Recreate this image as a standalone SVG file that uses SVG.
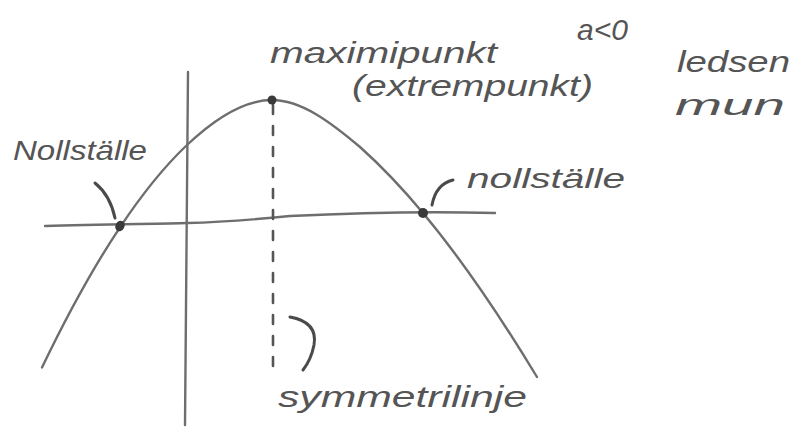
<svg xmlns="http://www.w3.org/2000/svg" width="807" height="427" viewBox="0 0 807 427">
<style>
.ln{fill:none;stroke:#6e6e6e;stroke-width:2.4;stroke-linecap:round;stroke-linejoin:round}
.dash{fill:none;stroke:#555;stroke-width:2.6;stroke-dasharray:9 12;stroke-linecap:round}
.ldr{fill:none;stroke:#4a4a4a;stroke-width:3;stroke-linecap:round}
.dot{fill:#3a3a3a}
.t{font-family:"Liberation Sans",Arial,sans-serif;fill:#555;font-style:italic}
</style>
<rect width="807" height="427" fill="#fff"/>
<g id="axes">
<path class="ln" d="M45,226 C100,224 160,224 187,223 C230,222 260,219 290,216 C350,213 420,211 495,213"/>
<path class="ln" d="M188,72 L185,425"/>
</g>
<g id="parabola">
<path class="ln" d="M42,367.5 C68,313.4 94,266.3 120,227.3 C142.3,193.8 164.7,166.1 187,145 C215.3,118.2 243.7,100 272,100 C301.3,100 330.7,122.2 360,147 C381,165.8 402,187.8 423,213 C461,258.5 499,314.3 537,377"/>
</g>
<g id="symmetry-axis">
<path class="dash" d="M273,105 L273,368"/>
</g>
<g id="maximum">
<ellipse class="dot" cx="272" cy="100" rx="4.5" ry="4.5"/>
<text class="t" x="270" y="63" font-size="30" textLength="227" lengthAdjust="spacingAndGlyphs">maximipunkt</text>
<text class="t" x="352" y="96" font-size="30" textLength="241" lengthAdjust="spacingAndGlyphs">(extrempunkt)</text>
</g>
<g id="zero-left">
<ellipse class="dot" cx="120" cy="226" rx="4.5" ry="5.5" transform="rotate(30 120 226)"/>
<text class="t" x="13" y="160" font-size="28" textLength="134" lengthAdjust="spacingAndGlyphs">Nollställe</text>
</g>
<g id="zero-right">
<ellipse class="dot" cx="423" cy="213" rx="5" ry="5"/>
<text class="t" x="467" y="188" font-size="28" textLength="158" lengthAdjust="spacingAndGlyphs">nollställe</text>
</g>
<g id="symmetry-label">
<text class="t" x="278" y="407" font-size="30" textLength="249" lengthAdjust="spacingAndGlyphs">symmetrilinje</text>
</g>
<g id="a-label">
<text class="t" x="577" y="40" font-size="30">a&lt;0</text>
</g>
<g id="mood-label">
<text class="t" x="677" y="72" font-size="30" textLength="113" lengthAdjust="spacingAndGlyphs">ledsen</text>
<text class="t" x="675" y="115" font-size="30" textLength="110" lengthAdjust="spacingAndGlyphs">mun</text>
</g>
<g id="connectors">
<path class="ldr" d="M95,183 Q110,195 115,218"/>
<path class="ldr" d="M453,180 Q436,184 432,205"/>
<path class="ldr" d="M290,317 Q318,322 314,345 Q311,360 303,370"/>
</g>
</svg>
